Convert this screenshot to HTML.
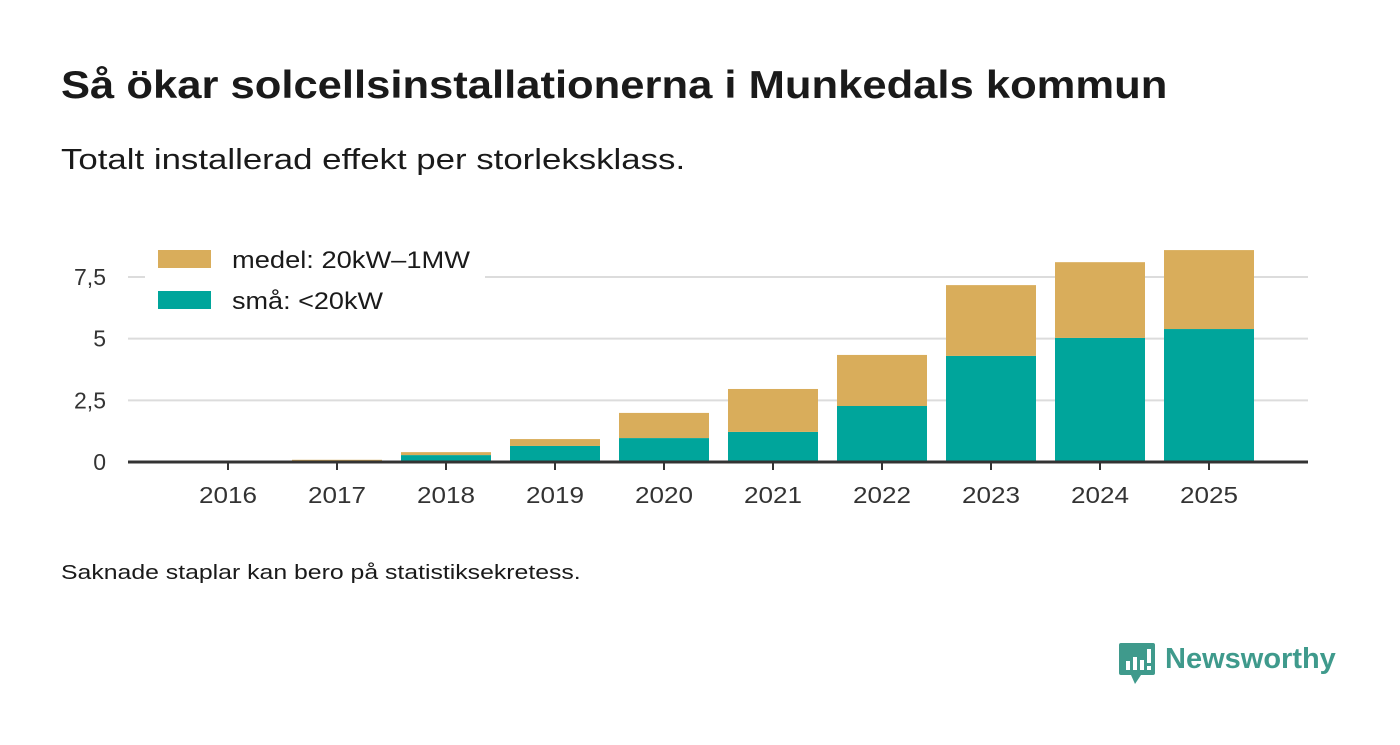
<!DOCTYPE html>
<html><head><meta charset="utf-8"><style>
body{margin:0;width:1400px;height:745px;background:#fff;font-family:"Liberation Sans","DejaVu Sans",sans-serif;color:#1a1a1a;position:relative;overflow:hidden}
.t,.s,.n{position:absolute;left:61px;white-space:nowrap;transform-origin:0 0}
.t{top:64px;font-size:39px;font-weight:bold;transform:scaleX(1.117)}
.s{top:144px;font-size:29px;transform:scaleX(1.2)}
.n{top:562px;font-size:20px;transform:scaleX(1.24)}
svg{position:absolute;left:0;top:0}
</style></head><body>
<div class="t">Så ökar solcellsinstallationerna i Munkedals kommun</div>
<div class="s">Totalt installerad effekt per storleksklass.</div>
<div class="n">Saknade staplar kan bero på statistiksekretess.</div>
<svg id="c" width="1400" height="745"></svg>
<div style="position:absolute;left:1119px;top:643px;display:flex;align-items:center">
<svg width="36" height="42" style="position:static"><path d="M2 0h32a2 2 0 0 1 2 2v28a2 2 0 0 1-2 2H22l-6 9-4-9H2a2 2 0 0 1-2-2V2a2 2 0 0 1 2-2z" fill="#3f9a8c"/><rect x="7" y="18" width="4" height="9" fill="#fff"/><rect x="14" y="14" width="4" height="13" fill="#fff"/><rect x="21" y="17" width="4" height="10" fill="#fff"/><rect x="28" y="6" width="4" height="14" fill="#fff"/><rect x="28" y="23" width="4" height="4" fill="#fff"/></svg>
<span style="margin-left:10px;font-size:29px;font-weight:bold;color:#3f9a8c;position:relative;top:-5px">Newsworthy</span></div>
<script>
const years=["2016","2017","2018","2019","2020","2021","2022","2023","2024","2025"];
const small=[0,0.01,0.28,0.65,0.97,1.22,2.27,4.3,5.03,5.39];
const medel=[0,0.08,0.12,0.28,1.02,1.74,2.07,2.87,3.07,3.2];
const yTicks=[0,2.5,5,7.5];
const yTickLabels=["0","2,5","5","7,5"];
const svg=document.getElementById('c');const NS="http://www.w3.org/2000/svg";
const x0=128,x1=1308,y0=462,pxu=24.67;
function xs(i){return 228+i*109;}
function ys(v){return y0-v*pxu;}
function mk(t,a){const e=document.createElementNS(NS,t);for(const k in a)e.setAttribute(k,a[k]);svg.appendChild(e);return e;}
yTicks.forEach((v,i)=>{
 if(v>0){const g=mk('line',{x1:x0,x2:x1,y1:ys(v),y2:ys(v),stroke:'#dcdcdc','stroke-width':2});
 
 }
 const t=mk('text',{x:106,y:ys(v)+8,'text-anchor':'end','font-size':23,fill:'#333'});t.textContent=yTickLabels[i];
 
 
});
years.forEach((y,i)=>{
 const cx=xs(i),w=90;
 const r1=mk('rect',{x:cx-w/2,y:ys(small[i]),width:w,height:small[i]*pxu,fill:'#00a59b'});
 
 
 const r2=mk('rect',{x:cx-w/2,y:ys(small[i]+medel[i]),width:w,height:medel[i]*pxu,fill:'#d9ad5b'});
 
 
 const tk=mk('line',{x1:cx,x2:cx,y1:y0,y2:y0+8,stroke:'#333','stroke-width':2});
 
 
 const t=mk('text',{x:cx-29,y:503,'font-size':23,fill:'#333',textLength:58,lengthAdjust:'spacingAndGlyphs'});t.textContent=y;
 
 
});
const ax=mk('line',{x1:x0,x2:x1,y1:y0,y2:y0,stroke:'#333','stroke-width':3});


const lb=mk('rect',{x:145,y:240,width:340,height:80,fill:'#fff'});


[["medel: 20kW–1MW","#d9ad5b",250,238],["små: <20kW","#00a59b",291,151]].forEach(l=>{
 const r=mk('rect',{x:158,y:l[2],width:53,height:18,fill:l[1]});
 
 
 const t=mk('text',{x:232,y:l[2]+18,'font-size':24,fill:'#1a1a1a',textLength:l[3],lengthAdjust:'spacingAndGlyphs'});t.textContent=l[0];
 
 
});
</script>
</body></html>
